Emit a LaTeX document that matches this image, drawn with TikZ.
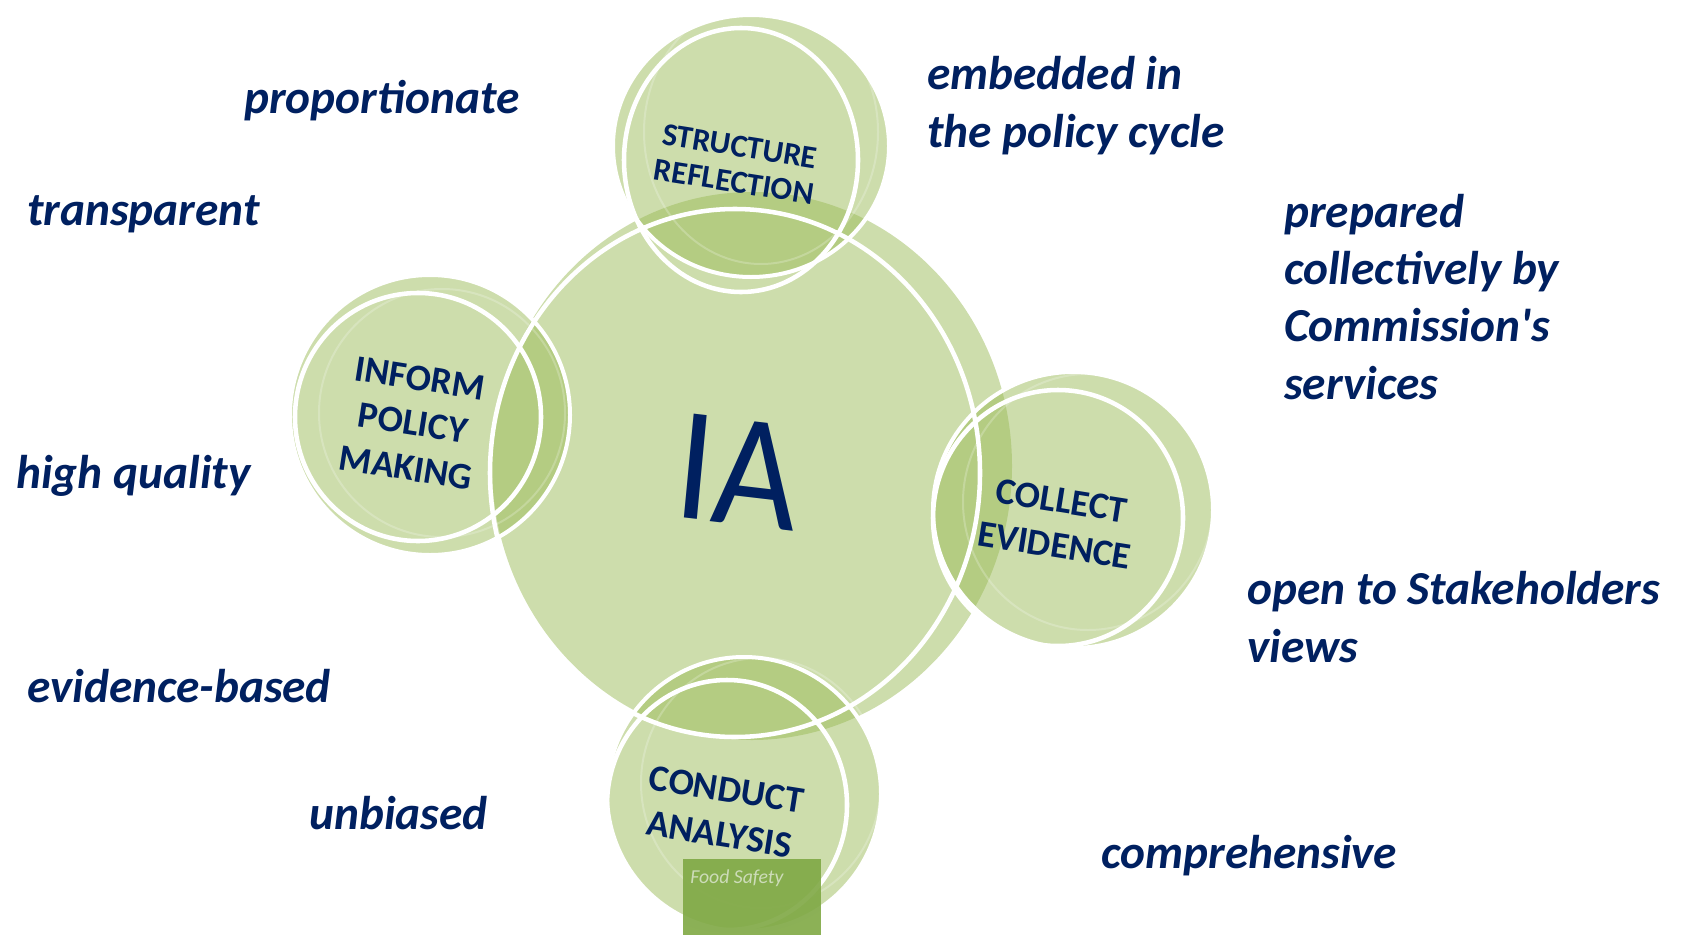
\documentclass[tikz,border=0pt]{standalone}
\usepackage{fontspec}
\setmainfont{Carlito}
\definecolor{navy}{HTML}{002060}
\definecolor{olive}{HTML}{9BBB59}
\definecolor{foodgreen}{RGB}{127,168,68}
\definecolor{foodtext}{RGB}{205,220,185}

\begin{document}
\begin{tikzpicture}[x=0.75pt,y=-0.75pt,
        disc/.style={fill=olive,fill opacity=0.5,draw=white,draw opacity=1,line width=3pt},
        rim/.style={draw=white,line width=3.4pt},
        shine/.style={draw=white,line width=1.5pt,opacity=0.22},
        tag/.style={text=navy,font=\fontsize{28}{34}\selectfont\bfseries,align=center,rotate=-9,inner sep=0pt},
        quality/.style={text=navy,font=\fontsize{35.5}{43}\selectfont\bfseries\itshape,align=left,anchor=base west,inner sep=0pt}]
        \useasboundingbox (0,0) rectangle (1681,935);
        % big disc
        \fill[olive,opacity=0.5] (752,466) ellipse [x radius=260, y radius=274];
        % small discs
        \draw[disc] (751,146) ellipse [x radius=138, y radius=131];
        \draw[disc] (430,415) ellipse [x radius=140, y radius=140];
        \draw[disc] (1073,510) ellipse [x radius=140, y radius=138];
        \draw[disc] (744,794) ellipse [x radius=137, y radius=137];
        % faint inner rims
        \draw[shine] (761,132) ellipse [x radius=117, y radius=132];
        \draw[shine] (442,413) ellipse [x radius=123, y radius=124];
        \draw[shine] (1088,502) ellipse [x radius=125, y radius=128];
        \draw[shine] (761,783) ellipse [x radius=120, y radius=125];
        % front rims
        \draw[rim] (735,473) ellipse [x radius=245, y radius=264];
        \draw[rim] (741,160) ellipse [x radius=117, y radius=132];
        \draw[rim] (418,417) ellipse [x radius=123, y radius=124];
        \draw[rim] (1058,518) ellipse [x radius=125, y radius=128];
        \draw[rim] (727,805) ellipse [x radius=120, y radius=125];
        % labels on the discs
        \node[text=navy,font=\fontsize{122}{122}\selectfont,xscale=0.9,rotate=-6,inner sep=0pt] (ia) at (738,472) {IA};
        \node[tag,font=\fontsize{24}{27}\selectfont\bfseries] (structure) at (737,164) {STRUCTURE\\REFLECTION};
        \node[tag] (inform) at (413,423) {INFORM\\POLICY\\MAKING};
        \node[tag] (collect) at (1058,523) {COLLECT\\EVIDENCE};
        \node[tag] (conduct) at (723,812) {CONDUCT\\ANALYSIS};
        % food safety tab
        \fill[foodgreen,opacity=0.9] (683,859) rectangle (821,940);
        \node[text=foodtext,font=\fontsize{14.8}{16}\selectfont\itshape,anchor=base west,inner sep=0pt] (food) at (690,883) {Food Safety};
        % qualities
        \node[quality] (proportionate) at (244,113) {proportionate};
        \node[quality] (transparent) at (27,225) {transparent};
        \node[quality] (highquality) at (16,488) {high quality};
        \node[quality] (evidence) at (27,702) {evidence-based};
        \node[quality] (unbiased) at (309,829) {unbiased};
        \node[quality] (embedded) at (927,147) {embedded in\\the policy cycle};
        \node[quality] (prepared) at (1284,399) {prepared\\collectively by\\Commission\textquotesingle s\\services};
        \node[quality] (open) at (1247,662) {open to Stakeholders\\views};
        \node[quality] (comprehensive) at (1101,868) {comprehensive};
\end{tikzpicture}
\end{document}
